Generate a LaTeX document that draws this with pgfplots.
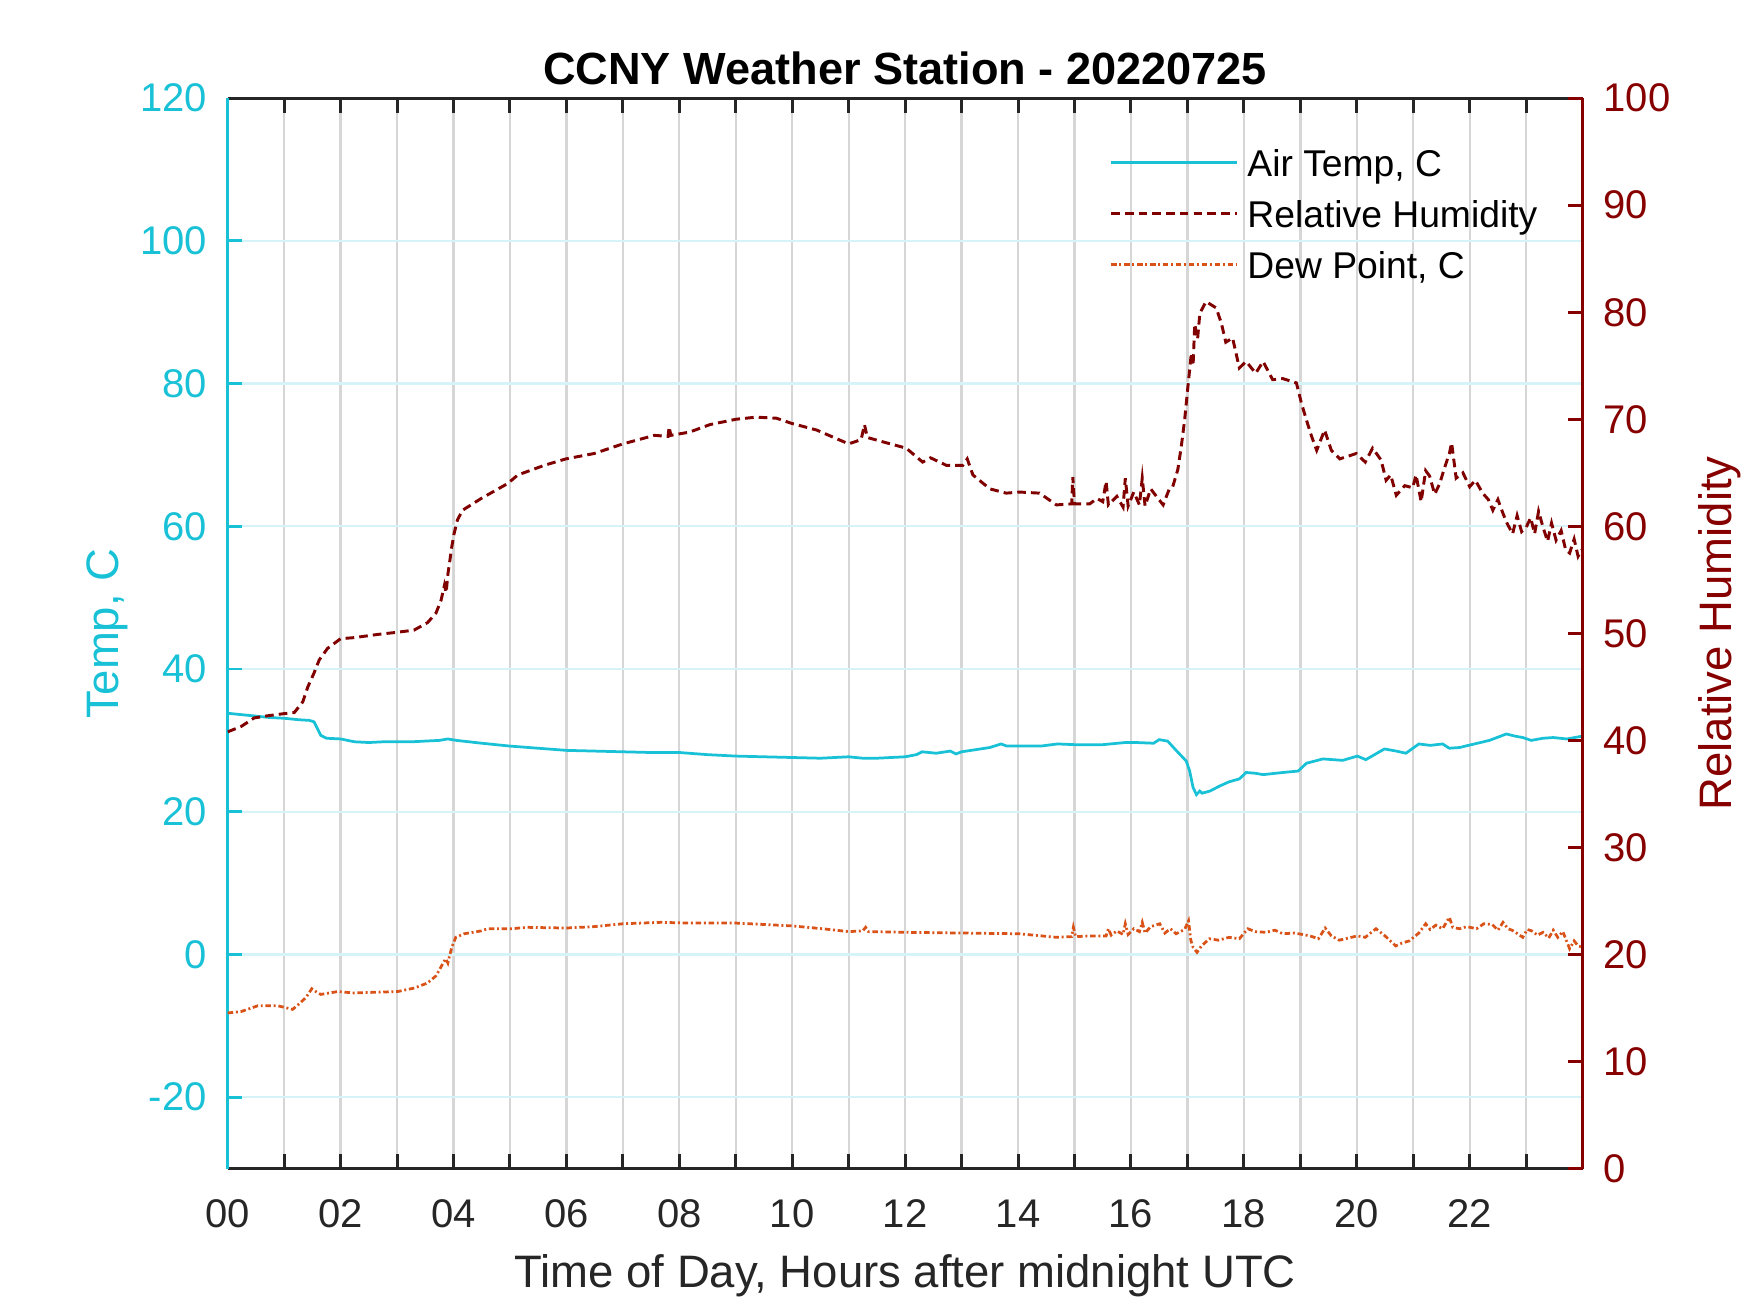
\documentclass[border=0pt]{standalone}
\usepackage{pgfplots}
\usepackage{pgfplotstable}
\pgfplotsset{compat=1.18}
\usepackage{fontspec}
\setmainfont{Liberation Sans}
\definecolor{tcyan}{RGB}{25,193,214}
\definecolor{rhred}{RGB}{128,0,0}
\definecolor{axred}{RGB}{135,0,0}
\definecolor{dporange}{RGB}{217,83,25}
\definecolor{axgray}{RGB}{38,38,38}
\definecolor{vgrid}{RGB}{214,214,214}
\definecolor{hgrid}{RGB}{214,243,247}
\pgfplotsset{/pgf/number format/assume math mode=true}
\tikzset{
 tempstyle/.style={tcyan, line width=0.7pt, solid},
 rhstyle/.style={rhred, line width=0.75pt, dash pattern=on 2.2pt off 1.3pt},
 dpstyle/.style={dporange, line width=0.7pt, dash pattern=on 1.4pt off 0.7pt on 0.5pt off 0.7pt},
}
\pgfplotstableread{
h T
0.00 33.8
0.25 33.6
0.50 33.4
0.75 33.2
1.00 33.1
1.25 32.9
1.45 32.8
1.53 32.6
1.58 31.8
1.65 30.7
1.75 30.3
2.00 30.2
2.25 29.8
2.50 29.7
2.75 29.8
3.00 29.8
3.25 29.8
3.50 29.9
3.75 30.0
3.90 30.2
4.05 30.0
4.50 29.6
5.00 29.2
5.50 28.9
6.00 28.6
6.50 28.5
7.00 28.4
7.50 28.3
8.00 28.3
8.50 28.0
9.00 27.8
9.50 27.7
10.00 27.6
10.50 27.5
11.00 27.7
11.25 27.5
11.50 27.5
12.00 27.7
12.20 28.0
12.30 28.4
12.55 28.2
12.80 28.5
12.90 28.1
13.00 28.4
13.25 28.7
13.50 29.0
13.70 29.5
13.80 29.2
14.00 29.2
14.40 29.2
14.70 29.5
15.00 29.4
15.50 29.4
15.90 29.7
16.10 29.7
16.40 29.6
16.50 30.1
16.65 29.9
16.80 28.6
16.98 27.1
17.04 25.7
17.10 23.4
17.16 22.4
17.22 22.9
17.26 22.6
17.40 22.9
17.57 23.6
17.74 24.2
17.92 24.6
18.04 25.5
18.20 25.4
18.34 25.2
18.69 25.5
18.96 25.7
19.11 26.8
19.40 27.4
19.75 27.2
20.01 27.8
20.16 27.3
20.49 28.8
20.70 28.5
20.87 28.2
21.10 29.5
21.30 29.3
21.52 29.5
21.64 28.9
21.82 29.0
22.03 29.4
22.35 30.0
22.65 30.9
22.80 30.6
22.94 30.4
23.09 30.0
23.30 30.3
23.48 30.4
23.72 30.2
24.00 30.6
}\temptable
\pgfplotstableread{
h D
0.00 -8.2
0.24 -8.0
0.53 -7.2
0.89 -7.2
1.05 -7.5
1.15 -7.7
1.27 -6.9
1.39 -6.0
1.49 -4.8
1.58 -5.3
1.65 -5.6
1.95 -5.2
2.24 -5.4
2.60 -5.3
3.01 -5.2
3.31 -4.7
3.54 -4.0
3.69 -3.0
3.81 -1.3
3.86 -0.6
3.90 -1.2
3.93 -0.2
3.97 1.0
4.04 2.4
4.19 2.9
4.49 3.3
4.60 3.6
5.02 3.6
5.31 3.8
5.99 3.7
6.49 3.9
7.00 4.3
7.67 4.5
8.18 4.4
9.00 4.4
10.00 4.0
10.54 3.6
11.00 3.2
11.25 3.3
11.30 3.8
11.35 3.2
12.02 3.1
13.02 3.0
14.02 2.9
14.68 2.4
14.95 2.5
14.98 3.8
15.02 2.5
15.30 2.6
15.56 2.6
15.60 3.6
15.65 2.7
15.75 3.3
15.86 2.8
15.90 4.3
15.95 2.8
16.05 3.6
16.15 3.2
16.20 4.5
16.25 3.0
16.35 3.9
16.51 4.3
16.60 3.0
16.70 3.6
16.80 2.9
16.95 3.5
17.02 4.7
17.06 2.0
17.10 1.0
17.17 0.3
17.25 1.2
17.39 2.2
17.55 2.0
17.74 2.4
17.92 2.2
18.07 3.6
18.20 3.2
18.39 3.1
18.55 3.4
18.69 2.9
18.90 3.0
19.17 2.6
19.32 2.2
19.44 3.7
19.55 2.6
19.69 2.0
19.85 2.3
20.01 2.6
20.15 2.4
20.34 3.6
20.50 2.6
20.69 1.2
20.80 1.6
20.93 1.9
21.10 3.0
21.22 4.3
21.30 3.5
21.40 4.1
21.52 3.6
21.64 5.2
21.70 3.8
21.82 3.6
21.95 3.9
22.12 3.6
22.25 4.3
22.40 4.2
22.50 3.4
22.59 4.5
22.68 3.6
22.75 3.4
22.85 2.9
22.94 2.4
23.02 3.5
23.10 3.3
23.20 2.7
23.30 3.1
23.40 2.3
23.48 3.4
23.56 2.4
23.65 3.2
23.72 1.8
23.77 0.8
23.85 1.9
23.92 1.2
24.00 1.0
}\dewtable
\pgfplotstableread{
h RH
0.00 40.8
0.24 41.3
0.47 42.1
0.71 42.3
1.00 42.5
1.18 42.6
1.33 43.6
1.42 45.0
1.53 46.3
1.62 47.5
1.77 48.6
2.00 49.5
2.24 49.6
2.66 49.9
3.00 50.1
3.30 50.3
3.54 51.0
3.69 51.9
3.78 53.1
3.84 54.5
3.87 53.8
3.90 55.5
3.93 56.6
3.97 58.1
4.01 59.3
4.07 60.6
4.16 61.5
4.49 62.6
4.96 64.0
5.14 64.8
5.61 65.7
5.99 66.3
6.49 66.8
7.00 67.7
7.56 68.5
7.80 68.4
7.82 69.3
7.85 68.5
8.18 68.8
8.54 69.5
9.00 70.0
9.36 70.2
9.72 70.1
10.00 69.6
10.43 69.0
10.78 68.2
11.00 67.7
11.22 68.1
11.28 69.5
11.33 68.3
11.60 67.9
12.02 67.3
12.31 66.0
12.45 66.4
12.73 65.7
13.02 65.7
13.10 66.3
13.20 64.8
13.50 63.5
13.79 63.1
14.03 63.2
14.38 63.1
14.68 62.0
14.95 62.1
14.97 64.6
15.00 62.1
15.27 62.1
15.40 62.6
15.50 62.3
15.56 64.2
15.60 62.0
15.75 62.8
15.86 61.8
15.90 64.5
15.95 61.9
16.05 63.2
16.15 62.0
16.20 64.5
16.25 61.9
16.35 63.5
16.45 62.8
16.57 62.0
16.68 63.5
16.74 63.7
16.83 65.3
16.89 67.4
16.95 69.9
17.01 73.1
17.07 76.2
17.10 75.0
17.13 78.9
17.18 77.5
17.22 79.9
17.33 81.0
17.51 80.4
17.60 79.0
17.68 77.2
17.80 77.6
17.86 76.2
17.92 74.8
18.04 75.4
18.21 74.3
18.34 75.4
18.51 73.7
18.69 73.8
18.93 73.4
19.02 71.5
19.11 69.9
19.20 68.4
19.29 67.1
19.43 69.0
19.55 67.1
19.70 66.3
19.99 66.8
20.15 66.0
20.28 67.3
20.43 66.2
20.52 64.3
20.60 64.8
20.70 62.9
20.85 63.8
20.99 63.6
21.05 64.8
21.14 62.3
21.22 65.2
21.29 64.7
21.38 63.0
21.47 64.0
21.55 65.4
21.64 66.8
21.68 67.8
21.76 64.5
21.88 65.0
22.00 63.7
22.10 64.3
22.23 63.1
22.33 62.5
22.41 61.5
22.50 62.5
22.59 61.2
22.66 60.3
22.76 59.3
22.84 61.0
22.92 59.5
23.00 59.9
23.08 60.8
23.15 59.3
23.22 61.4
23.30 59.9
23.38 58.6
23.45 60.3
23.53 58.7
23.62 59.6
23.70 57.8
23.77 57.5
23.85 58.8
23.92 57.2
23.98 57.8
}\rhtable
\begin{document}
\begin{tikzpicture}
\path[use as bounding box] (0,0) rectangle (15.68,11.76);
\begin{axis}[
  at={(2.04cm,1.29cm)}, anchor=south west,
  scale only axis, width=12.14cm, height=9.59cm,
  xmin=0, xmax=24, ymin=-30, ymax=120,
  axis x line=box, axis y line*=left,
  xtick={0,1,...,23},
  xticklabels={00,,02,,04,,06,,08,,10,,12,,14,,16,,18,,20,,22,},
  ytick={-20,0,20,40,60,80,100,120},
  tick align=inside, major tick length=3.7pt,
  xticklabel pos=bottom,
  x axis line style={axgray, line width=0.75pt},
  y axis line style={tcyan, line width=0.75pt},
  xtick style={axgray, line width=0.75pt},
  ytick style={tcyan, line width=0.75pt},
  xticklabel style={font=\fontsize{10.2}{12}\selectfont, text=axgray, anchor=base, yshift=-15pt},
  yticklabel style={font=\fontsize{10.2}{12}\selectfont, text=tcyan, anchor=east, xshift=-1.8pt},
  grid=major,
  major x grid style={vgrid, line width=0.6pt},
  major y grid style={hgrid, line width=0.6pt},
  title={CCNY Weather Station - 20220725},
  title style={at={(0.5,1)}, anchor=base, yshift=-2.4pt, font=\bfseries\fontsize{11.5}{14}\selectfont, text=black},
  xlabel={Time of Day, Hours after midnight UTC},
  xlabel style={at={(axis description cs:0.5,-0.1116)}, anchor=base, font=\fontsize{11.6}{14}\selectfont, text=axgray},
  ylabel={Temp, C},
  ylabel style={at={(axis description cs:-0.0807,0.5)}, anchor=base, font=\fontsize{11.6}{14}\selectfont, text=tcyan},
]
\addplot[tempstyle] table[x=h, y=T] {\temptable};
\addplot[dpstyle] table[x=h, y=D] {\dewtable};
\end{axis}
\begin{axis}[
  at={(2.04cm,1.29cm)}, anchor=south west,
  scale only axis, width=12.14cm, height=9.59cm,
  xmin=0, xmax=24, ymin=0, ymax=100,
  axis x line=none, axis y line*=right,
  ytick={0,10,...,100},
  tick align=inside, major tick length=3.7pt,
  y axis line style={axred, line width=0.75pt},
  ytick style={axred, line width=0.75pt},
  yticklabel style={font=\fontsize{10.2}{12}\selectfont, text=axred, anchor=west, xshift=1.8pt},
  ylabel={Relative Humidity},
  ylabel style={at={(axis description cs:1.1096,0.5)}, anchor=base, font=\fontsize{11.6}{14}\selectfont, text=axred},
  legend cell align=left,
  legend image code/.code={\path (0cm,0cm) (0cm,3.8pt); \draw[#1] (0cm,1.0pt) -- (1.13cm,1.0pt);},
  legend style={at={(axis description cs:0.651,0.9528)}, anchor=north west, draw=none, fill=none, inner sep=0pt, outer sep=0pt,
    font=\fontsize{9.5}{11}\selectfont,
    nodes={inner sep=0pt, outer sep=0pt, text height=7pt, text depth=2.2pt},
    row sep=3.8pt, column sep=2.2pt},
]
\addlegendimage{tempstyle}
\addlegendentry{Air Temp, C}
\addplot[rhstyle] table[x=h, y=RH] {\rhtable};
\addlegendentry{Relative Humidity}
\addlegendimage{dpstyle}
\addlegendentry{Dew Point, C}
\end{axis}
\end{tikzpicture}
\end{document}
